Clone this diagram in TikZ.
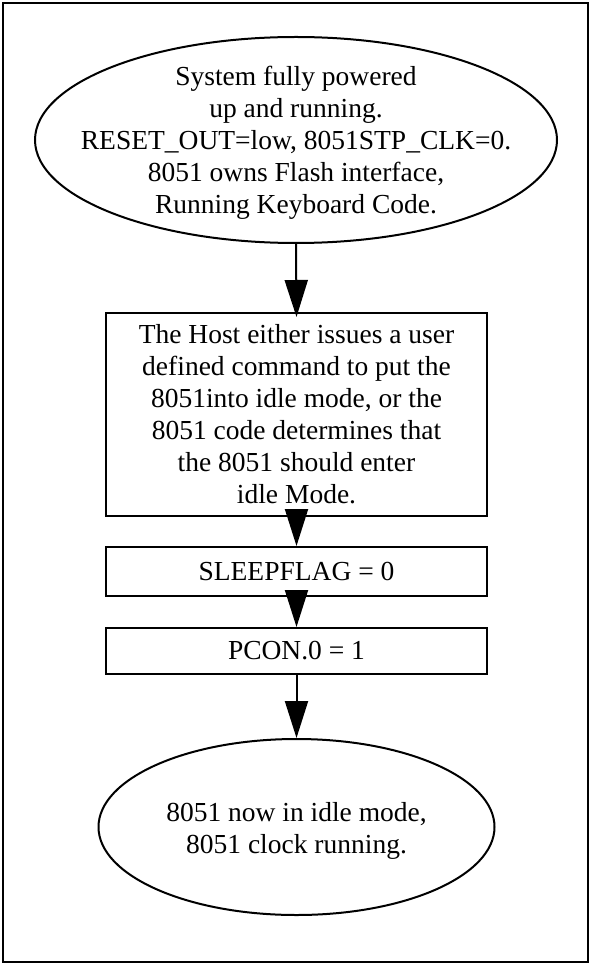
\documentclass[tikz,border=0pt]{standalone}
\usepackage{fontspec}
\setmainfont{Liberation Serif}
\usetikzlibrary{arrows.meta,shapes.geometric}
\tikzset{
  lbl/.style={font=\fontsize{27.5}{32}\selectfont, align=center},
  oval/.style={draw, ellipse, line width=2pt, inner sep=0pt},
  stepbox/.style={draw, rectangle, line width=2pt, inner sep=0pt, minimum width=381pt, lbl},
  arr/.style={line width=2pt, -{Triangle[length=37pt,width=23pt]}}
}
\begin{document}
\begin{tikzpicture}[x=1pt,y=-1pt]
\useasboundingbox (0,0) rectangle (590,965);
\draw[line width=2pt] (3,3) rectangle (588,962);
\node[oval, minimum width=522pt, minimum height=206pt] (e1) at (296,140) {};
\node[lbl] (e1t) at ([yshift=-3pt]e1.center)
  {System fully powered\\up and running.\\RESET\_OUT=low, 8051STP\_CLK=0.\\8051 owns Flash interface,\\Running Keyboard Code.};
\node[stepbox, minimum height=203pt] (b1) at (296.5,414.5)
  {The Host either issues a user\\defined command to put the\\8051into idle mode, or the\\8051 code determines that\\the 8051 should enter\\idle Mode.};
\node[stepbox, minimum height=49pt] (b2) at (296.5,571.5) {SLEEPFLAG = 0};
\node[stepbox, minimum height=46pt] (b3) at (296.5,651) {PCON.0 = 1};
\node[oval, minimum width=396pt, minimum height=176pt] (e2) at (296.5,827) {};
\node[lbl] (e2t) at ([yshift=-4pt]e2.center) {8051 now in idle mode,\\8051 clock running.};
\coordinate (t1) at ([yshift=-5pt]b1.north);
\draw[arr] (e1.south) -- (t1);
\draw[arr] (b1.south) -- (b2.north);
\draw[arr] (b2.south) -- (b3.north);
\draw[arr] (b3.south) -- (e2.north);
\end{tikzpicture}
\end{document}
